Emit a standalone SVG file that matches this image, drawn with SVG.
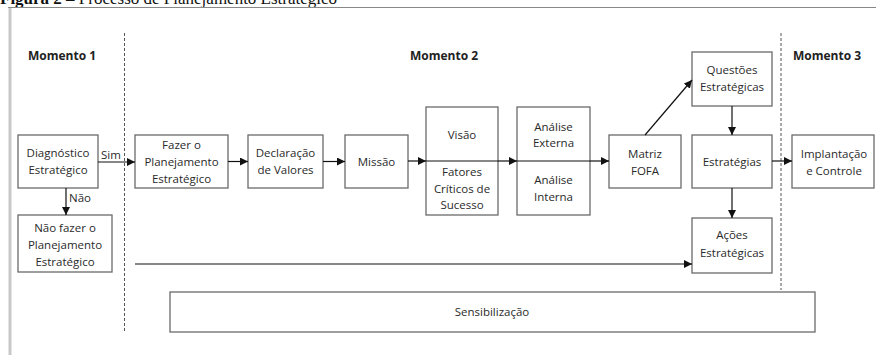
<svg xmlns="http://www.w3.org/2000/svg" width="876" height="355" viewBox="0 0 876 355">
<style>
.box{fill:#fff;stroke:#6a6a6a;stroke-width:1.3}
.t{font-family:"Open Sans","Noto Sans",sans-serif;font-size:11.5px;fill:#2a2a2a;text-anchor:middle}
.h{font-family:"Open Sans","Noto Sans",sans-serif;font-size:12px;font-weight:bold;fill:#222}
.c{stroke:#111;stroke-width:1.2;fill:none}
.d{stroke:#555;stroke-width:1;stroke-dasharray:3,2;fill:none}
</style>
<defs>
<marker id="a" markerUnits="userSpaceOnUse" markerWidth="9" markerHeight="8" refX="8" refY="4" orient="auto">
<path d="M0,0 L8,4 L0,8 z" fill="#111"/>
</marker>
</defs>
<rect width="876" height="355" fill="#fff"/>
<text x="0" y="4" font-family="Liberation Serif,serif" font-size="17" fill="#111"><tspan font-weight="bold">Figura 2</tspan> – Processo de Planejamento Estratégico</text>
<line x1="8" y1="7.5" x2="876" y2="7.5" stroke="#888" stroke-width="1.2"/>
<line x1="10" y1="8" x2="10" y2="355" stroke="#c8c8c8" stroke-width="3"/>

<g id="labels">
<text class="h" x="28" y="60">Momento 1</text>
<text class="h" x="410" y="60">Momento 2</text>
<text class="h" x="793" y="60">Momento 3</text>
</g>
<g id="dividers">
<line class="d" x1="124.5" y1="33" x2="124.5" y2="333"/>
<line class="d" x1="781" y1="33" x2="781" y2="290"/>
</g>

<g id="diagnostico"><rect class="box" x="18" y="135" width="80" height="53"/>
<text class="t" x="58" y="157">Diagnóstico</text><text class="t" x="58" y="174">Estratégico</text></g>
<g id="naofazer"><rect class="box" x="18" y="215" width="94" height="57"/>
<text class="t" x="65" y="232">Não fazer o</text><text class="t" x="65" y="249">Planejamento</text><text class="t" x="65" y="266">Estratégico</text></g>
<g id="fazer"><rect class="box" x="135" y="135" width="93" height="53"/>
<text class="t" x="181.5" y="149">Fazer o</text><text class="t" x="181.5" y="166">Planejamento</text><text class="t" x="181.5" y="183">Estratégico</text></g>
<g id="declaracao"><rect class="box" x="248" y="135" width="75" height="53"/>
<text class="t" x="285.5" y="157">Declaração</text><text class="t" x="285.5" y="174">de Valores</text></g>
<g id="missao"><rect class="box" x="345" y="135" width="63" height="53"/>
<text class="t" x="376.5" y="166">Missão</text></g>
<g id="visao"><rect class="box" x="426" y="107" width="72" height="108"/>
<line x1="426" y1="161" x2="498" y2="161" stroke="#111" stroke-width="1.2"/>
<text class="t" x="462" y="139">Visão</text>
<text class="t" x="462" y="176">Fatores</text><text class="t" x="462" y="193">Críticos de</text><text class="t" x="462" y="209">Sucesso</text></g>
<g id="analise"><rect class="box" x="517" y="107" width="73" height="108"/>
<line x1="517" y1="161" x2="590" y2="161" stroke="#111" stroke-width="1.2"/>
<text class="t" x="553.5" y="131">Análise</text><text class="t" x="553.5" y="147">Externa</text>
<text class="t" x="553.5" y="184">Análise</text><text class="t" x="553.5" y="201">Interna</text></g>
<g id="matriz"><rect class="box" x="609" y="135" width="72" height="53"/>
<text class="t" x="645" y="158">Matriz</text><text class="t" x="645" y="175">FOFA</text></g>
<g id="questoes"><rect class="box" x="692" y="52" width="80" height="54"/>
<text class="t" x="732" y="74">Questões</text><text class="t" x="732" y="91">Estratégicas</text></g>
<g id="estrategias"><rect class="box" x="692" y="135" width="80" height="53"/>
<text class="t" x="732" y="166">Estratégias</text></g>
<g id="acoes"><rect class="box" x="692" y="218" width="80" height="55"/>
<text class="t" x="732" y="239">Ações</text><text class="t" x="732" y="257">Estratégicas</text></g>
<g id="implantacao"><rect class="box" x="792" y="135" width="82" height="53"/>
<text class="t" x="834" y="158">Implantação</text><text class="t" x="834" y="175">e Controle</text></g>
<g id="sensibilizacao"><rect class="box" x="170" y="292" width="645" height="40"/>
<text class="t" x="492" y="316">Sensibilização</text></g>

<g id="connectors">
<line class="c" x1="98" y1="162" x2="135" y2="162" marker-end="url(#a)"/>
<text class="t" x="111" y="159">Sim</text>
<line class="c" x1="66" y1="188" x2="66" y2="215" marker-end="url(#a)"/>
<text class="t" x="80" y="202">Não</text>
<line class="c" x1="228" y1="161.5" x2="248" y2="161.5" marker-end="url(#a)"/>
<line class="c" x1="323" y1="161.5" x2="345" y2="161.5" marker-end="url(#a)"/>
<line class="c" x1="408" y1="161" x2="426" y2="161" marker-end="url(#a)"/>
<line class="c" x1="498" y1="161" x2="517" y2="161" marker-end="url(#a)"/>
<line class="c" x1="590" y1="161" x2="609" y2="161" marker-end="url(#a)"/>
<line class="c" x1="645" y1="135" x2="692" y2="80" marker-end="url(#a)"/>
<line class="c" x1="732" y1="106" x2="732" y2="135" marker-end="url(#a)"/>
<line class="c" x1="732" y1="188" x2="732" y2="218" marker-end="url(#a)"/>
<line class="c" x1="772" y1="161" x2="792" y2="161" marker-end="url(#a)"/>
<line class="c" x1="135" y1="264" x2="692" y2="264" marker-end="url(#a)"/>
</g>
</svg>
